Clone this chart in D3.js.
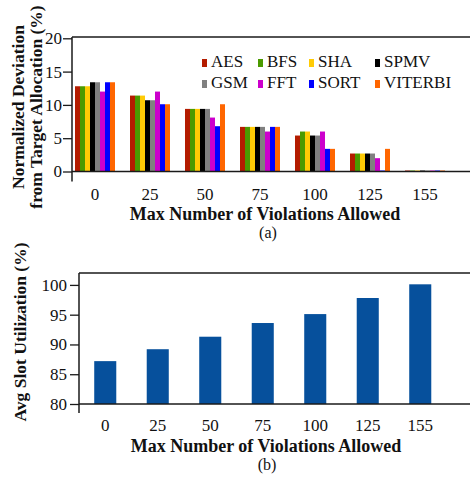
<!DOCTYPE html>
<html>
<head>
<meta charset="utf-8">
<script src="https://cdn.jsdelivr.net/npm/d3@7"></script>
<style>
  html, body { margin: 0; padding: 0; background: #fff; }
  svg text { font-family: "Liberation Serif", "Times New Roman", serif; fill: #111; }
</style>
</head>
<body>
<svg id="chart" width="470" height="481"></svg>
<script>
// ---- Data ----
const categories = ["0", "25", "50", "75", "100", "125", "155"];
const benchmarks = ["AES", "BFS", "SHA", "SPMV", "GSM", "FFT", "SORT", "VITERBI"];
const benchColors = ["#b41c00", "#4b9a00", "#ffcb05", "#000000", "#808080", "#cc00cc", "#0000ff", "#ff6600"];
const AES     = [12.8, 11.4, 9.4, 6.7, 5.4, 2.7, 0.15];
const BFS     = [12.8, 11.4, 9.4, 6.7, 6.0, 2.7, 0.15];
const SHA     = [12.8, 11.4, 9.4, 6.7, 6.0, 2.7, 0.15];
const SPMV    = [13.4, 10.7, 9.4, 6.7, 5.4, 2.7, 0.15];
const GSM     = [13.4, 10.7, 9.4, 6.7, 5.4, 2.7, 0.15];
const FFT     = [12.0, 12.0, 8.1, 6.0, 6.0, 2.0, 0.15];
const SORT    = [13.4, 10.1, 6.8, 6.7, 3.4, 0.15, 0.15];
const VITERBI = [13.4, 10.1, 10.1, 6.7, 3.4, 3.4, 0.15];
const seriesValues = [AES, BFS, SHA, SPMV, GSM, FFT, SORT, VITERBI];
const deviationTicks = [0, 5, 10, 15, 20];

const utilization = [87.2, 89.2, 91.3, 93.6, 95.1, 97.8, 100.1];
const utilTicks = [80, 85, 90, 95, 100];

const svg = d3.select("#chart");
const axisColor = "#1a1a1a";

// ================= Chart (a) =================
(function () {
  const left = 72, right = 470, top = 37, bottom = 171.5;
  const g = svg.append("g");

  const x = d3.scaleBand().domain(categories).range([left, 448])
    .paddingInner(15 / 55).paddingOuter(3 / 55);
  const xi = d3.scaleBand().domain(benchmarks).range([0, x.bandwidth()]);
  const y = d3.scaleLinear().domain([0, 20]).range([bottom, 38.3]);

  // bars
  benchmarks.forEach((b, bi) => {
    g.append("g").selectAll("rect")
      .data(seriesValues[bi].map((v, ci) => ({ cat: categories[ci], v })))
      .join("rect")
      .attr("x", d => x(d.cat) + xi(b))
      .attr("width", xi.bandwidth())
      .attr("y", d => y(d.v))
      .attr("height", d => y(0) - y(d.v))
      .attr("fill", benchColors[bi]);
  });

  // top frame line
  g.append("line").attr("x1", left).attr("x2", right).attr("y1", top).attr("y2", top)
    .attr("stroke", axisColor).attr("stroke-width", 1.5);

  // x axis line
  g.append("line").attr("x1", left).attr("x2", right).attr("y1", bottom).attr("y2", bottom)
    .attr("stroke", axisColor).attr("stroke-width", 1.5);

  // y axis
  const ya = g.append("g").attr("transform", `translate(${left},0)`)
    .call(d3.axisLeft(y).tickValues(deviationTicks).tickSize(9).tickPadding(1).tickSizeOuter(0));
  ya.select(".domain").remove();
  ya.selectAll(".tick line").attr("stroke", axisColor).attr("stroke-width", 1.3);
  ya.selectAll(".tick text").attr("font-size", 17).attr("font-family", "Liberation Serif").attr("fill", "#111");
  g.append("line").attr("x1", left).attr("x2", left).attr("y1", top).attr("y2", bottom + 10)
    .attr("stroke", axisColor).attr("stroke-width", 1.5);

  // x tick labels
  const xa = g.append("g").attr("transform", `translate(0,${bottom})`)
    .call(d3.axisBottom(x).tickSize(0).tickPadding(16));
  xa.select(".domain").remove();
  xa.selectAll(".tick text").attr("font-size", 17).attr("font-family", "Liberation Serif").attr("fill", "#111");

  // x title
  g.append("text").attr("x", 265).attr("y", 220).attr("text-anchor", "middle")
    .attr("font-size", 18).attr("font-weight", "bold").text("Max Number of Violations Allowed");
  g.append("text").attr("x", 268).attr("y", 238).attr("text-anchor", "middle")
    .attr("font-size", 16).text("(a)");

  // y title (two lines)
  const yt = g.append("text").attr("transform", "translate(0,107) rotate(-90)")
    .attr("text-anchor", "middle").attr("font-size", 17.5).attr("font-weight", "bold");
  yt.append("tspan").attr("x", 0).attr("y", 24).text("Normalized Deviation");
  yt.append("tspan").attr("x", 0).attr("y", 42).text("from Target Allocation (%)");

  // legend
  const colX = [202, 258, 309, 375];
  const rowY = [67, 88];
  const lg = g.append("g");
  benchmarks.forEach((b, i) => {
    const cx = colX[i % 4], ry = rowY[Math.floor(i / 4)];
    lg.append("rect").attr("x", cx).attr("y", ry - 8).attr("width", 5).attr("height", 8)
      .attr("fill", benchColors[i]);
    lg.append("text").attr("x", cx + 9).attr("y", ry).attr("font-size", 17).text(b);
  });
})();

// ================= Chart (b) =================
(function () {
  const left = 79, right = 470, top = 273, bottom = 404;
  const g = svg.append("g");

  const x = d3.scaleBand().domain(categories).range([left, 446.5])
    .paddingInner(0.58).paddingOuter(0.29);
  const y = d3.scaleLinear().domain([80, 102]).range([bottom, top]);

  g.append("g").selectAll("rect")
    .data(utilization.map((v, i) => ({ cat: categories[i], v })))
    .join("rect")
    .attr("x", d => x(d.cat))
    .attr("width", x.bandwidth())
    .attr("y", d => y(d.v))
    .attr("height", d => y(80) - y(d.v))
    .attr("fill", "#06509c");

  g.append("line").attr("x1", left).attr("x2", right).attr("y1", top).attr("y2", top)
    .attr("stroke", axisColor).attr("stroke-width", 1.5);
  g.append("line").attr("x1", left).attr("x2", right).attr("y1", bottom).attr("y2", bottom)
    .attr("stroke", axisColor).attr("stroke-width", 1.5);

  const ya = g.append("g").attr("transform", `translate(${left},0)`)
    .call(d3.axisLeft(y).tickValues(utilTicks).tickSize(9).tickPadding(3).tickSizeOuter(0));
  ya.select(".domain").remove();
  ya.selectAll(".tick line").attr("stroke", axisColor).attr("stroke-width", 1.3);
  ya.selectAll(".tick text").attr("font-size", 17).attr("font-family", "Liberation Serif").attr("fill", "#111");
  g.append("line").attr("x1", left).attr("x2", left).attr("y1", top).attr("y2", bottom + 9)
    .attr("stroke", axisColor).attr("stroke-width", 1.5);

  const xa = g.append("g").attr("transform", `translate(0,${bottom})`)
    .call(d3.axisBottom(x).tickSize(0).tickPadding(15));
  xa.select(".domain").remove();
  xa.selectAll(".tick text").attr("font-size", 17).attr("font-family", "Liberation Serif").attr("fill", "#111");

  g.append("text").attr("x", 266).attr("y", 452).attr("text-anchor", "middle")
    .attr("font-size", 18).attr("font-weight", "bold").text("Max Number of Violations Allowed");
  g.append("text").attr("x", 267).attr("y", 470).attr("text-anchor", "middle")
    .attr("font-size", 16).text("(b)");

  g.append("text").attr("transform", "translate(26,332) rotate(-90)")
    .attr("text-anchor", "middle").attr("font-size", 17.5).attr("font-weight", "bold")
    .text("Avg Slot Utilization (%)");
})();
</script>
</body>
</html>
